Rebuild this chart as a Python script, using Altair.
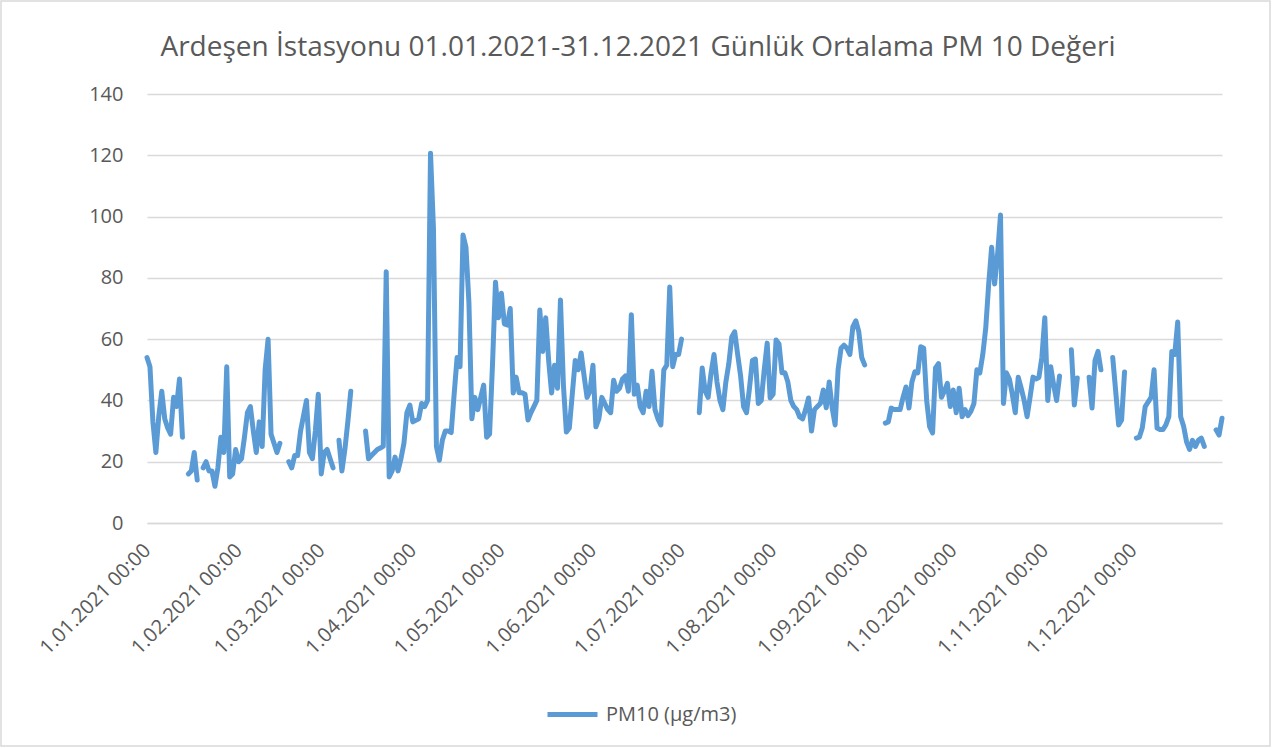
import altair as alt
import pandas as pd

# Daily mean PM10 (µg/m3), one list per month; None marks a day without a measurement
jan = [54, 51, 33, 23, 35, 43, 34, 31, 29, 41, 38, 47, 28, None, 16, 17, 23, 14, None, 18,
       20, 17, 17, 12, 18, 28, 23, 51, 15, 16, 24]
feb = [20, 21, 28, 36, 38, 30, 23, 33, 25, 50, 60, 29, 26, 23, 26, None, None, 20, 18, 22,
       22, 30, 35, 40, 23, 21, 30, 42]
mar = [16, 23, 24, 21, 18, None, 27, 17, 24, 33, 43, None, None, None, None, 30, 21, 22, 23, 24,
       24.5, 25, 82, 15, 17, 21.5, 17, 21, 26, 36, 38.5]
apr = [33, 33.5, 34, 39, 38, 40, 120.7, 96, 25, 20.5, 27, 30, 30, 29.5, 42, 54, 51, 94, 90, 72,
       34, 41, 37, 41, 45, 28, 29, 52, 78.6, 67]
may = [75, 65, 64.6, 70, 42.4, 47.6, 42.5, 42.5, 42, 33.6, 36, 38, 40, 69.5, 56, 67, 53, 42.4, 51.5, 44,
       72.8, 45, 29.7, 31, 42, 53, 50, 55.5, 48, 41, 43]
jun = [51.5, 31.4, 34, 41, 39, 37, 36, 46.6, 43, 44, 47, 48, 43, 68, 42, 45, 38, 36, 43, 38,
       49.5, 37, 34, 32, 50, 51.5, 77, 51, 55, 55]
jul = [60, None, None, None, None, None, 36, 50.6, 43, 41, 49, 55, 46, 40, 37, 46, 52, 60.7, 62.4, 55,
       48, 38, 36, 44, 53, 53.5, 39, 40, 50, 58.7, 40.8]
aug = [42, 59.7, 58.4, 49, 49, 46, 40, 38, 37, 34.6, 34, 37, 40.8, 30, 37, 38, 39, 43.4, 37.6, 46,
       37.6, 32, 50, 57, 58, 57, 55, 64, 66, 62.5, 54]
sep = [51.6, None, None, None, None, None, None, 32.6, 33, 37.5, 37, 37, 37, 41, 44.4, 37.5, 46, 49.3, 49, 57.5,
       57, 40, 31.4, 29.4, 50.6, 52, 41, 43, 45.6, 38]
oct = [43.4, 36, 44, 34.7, 37, 35, 36.5, 39, 50, 49, 55, 63.6, 78, 90, 78, 87.5, 100.5, 39, 49, 47,
       42, 36, 47.6, 44, 40, 34.7, 41, 47.6, 47, 47.5, 54]
nov = [67, 40, 51, 45, 40, 48, None, None, None, 56.5, 38.5, 47.3, None, None, None, 47.6, 37.5, 53, 56, 50,
       None, None, None, 54, 43, 32, 33.6, 49.3, None, None]
dec = [None, 27.7, 28, 31, 38, 39.5, 41, 50, 31, 30.5, 30.5, 32, 34.7, 56, 55, 65.6, 34.7, 31.6, 26.5, 24,
       27, 25, 27, 27.7, 25, None, None, None, 30.4, 28.7, 34.2]

month_start_days = [0, 31, 59, 90, 120, 151, 181, 212, 243, 273, 304, 334]
month_labels = ["1.01.2021 00:00", "1.02.2021 00:00", "1.03.2021 00:00", "1.04.2021 00:00",
                "1.05.2021 00:00", "1.06.2021 00:00", "1.07.2021 00:00", "1.08.2021 00:00",
                "1.09.2021 00:00", "1.10.2021 00:00", "1.11.2021 00:00", "1.12.2021 00:00"]
y_ticks = [0, 20, 40, 60, 80, 100, 120, 140]
series_name = "PM10 (µg/m3)"
title_text = "Ardeşen İstasyonu 01.01.2021-31.12.2021 Günlük Ortalama PM 10 Değeri"

values = jan + feb + mar + apr + may + jun + jul + aug + sep + oct + nov + dec
df = pd.DataFrame({"day": list(range(len(values))), "pm10": values})
# a new line piece starts after every missing day
df["segment"] = df["pm10"].isna().cumsum()
df = df.dropna().reset_index(drop=True)
df["series"] = series_name

FONT = "Open Sans"
TEXT = "#595959"
GRID = "#d9d9d9"

label_expr = "{labels}[indexof({days}, datum.value)]".format(
    labels="[" + ",".join("'" + s + "'" for s in month_labels) + "]",
    days="[" + ",".join(str(d) for d in month_start_days) + "]",
)

line = alt.Chart(df).mark_line(strokeWidth=5, strokeCap="round", strokeJoin="round").encode(
    x=alt.X("day:Q",
            scale=alt.Scale(domain=[0, 364], nice=False, zero=False),
            axis=alt.Axis(values=month_start_days, labelExpr=label_expr, labelAngle=-45,
                          labelAlign="right", labelBaseline="middle", labelPadding=24,
                          ticks=False, grid=False, domain=True, domainColor=GRID, domainWidth=1.5,
                          title=None, labelFont=FONT, labelFontSize=20, labelColor=TEXT,
                          labelOverlap=False, labelBound=False, labelFlush=False)),
    y=alt.Y("pm10:Q",
            scale=alt.Scale(domain=[0, 140], nice=False),
            axis=alt.Axis(values=y_ticks, grid=True, gridColor=GRID, gridWidth=1.5,
                          domain=False, ticks=False, labelPadding=24, title=None,
                          labelFont=FONT, labelFontSize=20, labelColor=TEXT)),
    color=alt.Color("series:N",
                    scale=alt.Scale(domain=[series_name], range=["#5B9BD5"]),
                    legend=alt.Legend(title=None, orient="none", legendX=398, legendY=593,
                                      padding=0, symbolType="stroke", symbolSize=2500,
                                      symbolStrokeWidth=5, labelFont=FONT, labelFontSize=20,
                                      labelColor=TEXT, labelOffset=6)),
    detail="segment:N",
)

one_row = pd.DataFrame({"k": [0]})

# thin outer frame around the whole chart area
frame = alt.Chart(one_row).mark_rect(
    fillOpacity=0, stroke=GRID, strokeWidth=1.5
).encode(x=alt.value(-146), x2=alt.value(1123), y=alt.value(-93), y2=alt.value(652))

# chart heading, centred on the whole chart area
heading = alt.Chart(one_row).mark_text(
    text=title_text, font=FONT, fontSize=28, color=TEXT, align="center", baseline="alphabetic"
).encode(x=alt.value(491), y=alt.value(-38))

chart = alt.layer(frame, heading, line).properties(
    width=1075, height=429,
    autosize=alt.AutoSizeParams(type="none"),
    padding={"left": 147, "top": 94, "right": 50, "bottom": 225},
    background="white",
).configure_view(stroke="transparent")

chart.save("out.html", embed_options={"renderer": "svg", "actions": False})
